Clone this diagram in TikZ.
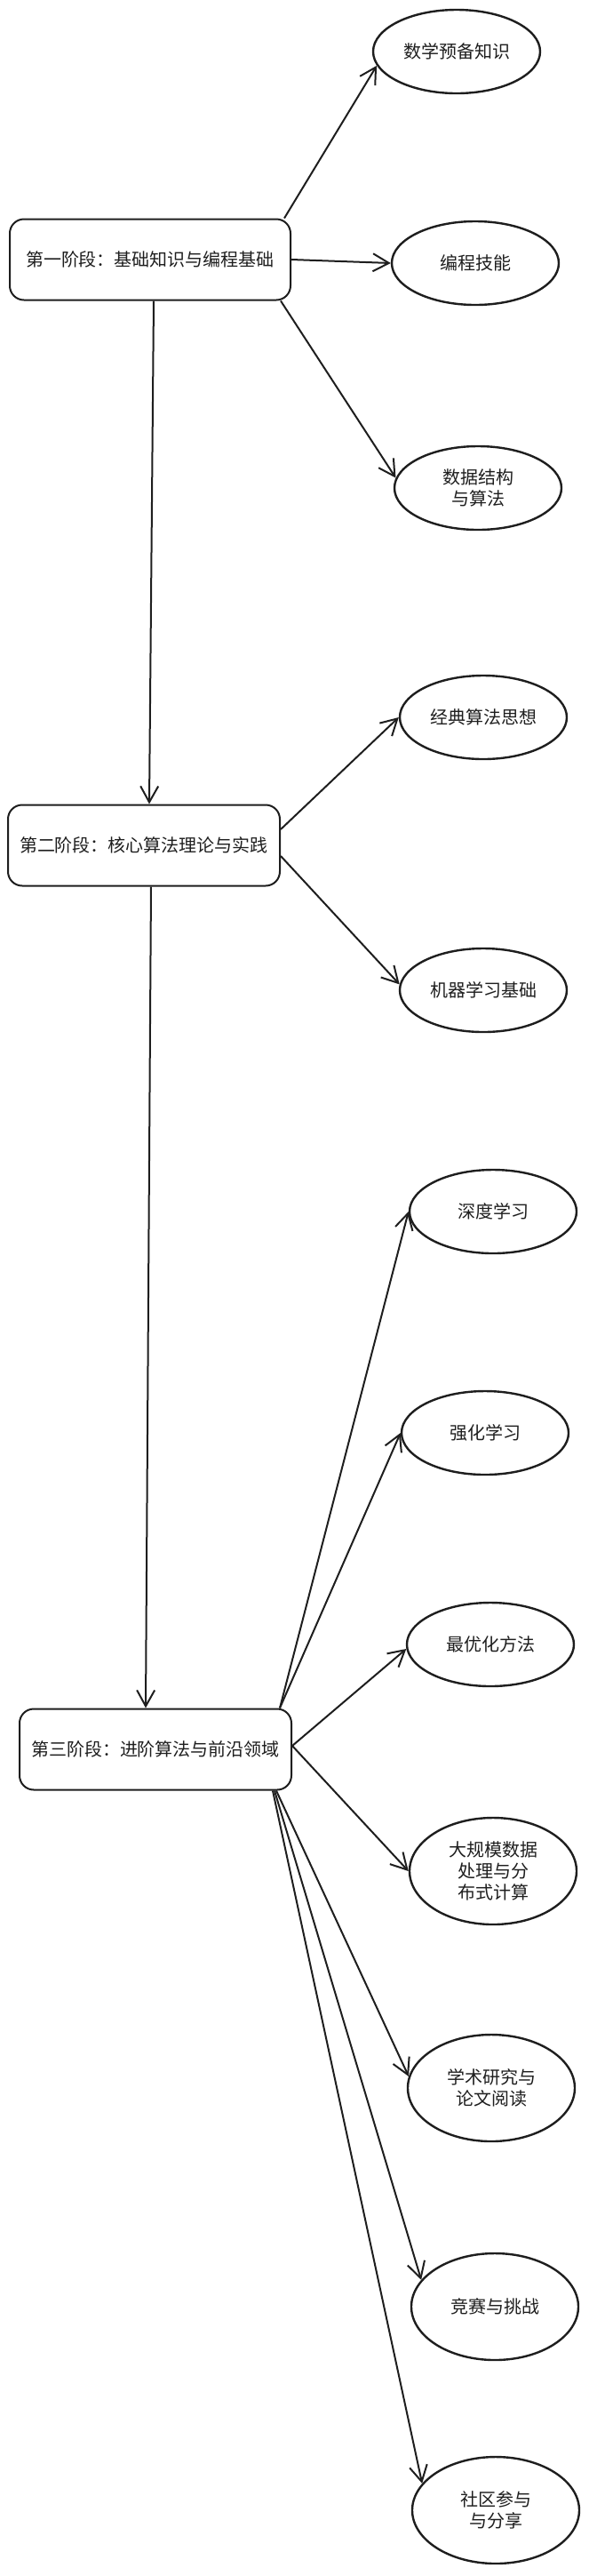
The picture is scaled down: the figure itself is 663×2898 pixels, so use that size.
\documentclass[tikz,border=0pt]{standalone}
\usepackage{fontspec}
\setmainfont{Noto Sans CJK SC}
\usepackage{tikz}
\usetikzlibrary{arrows.meta}
\usetikzlibrary{shapes}
\definecolor{ink}{HTML}{1E1E1E}
\tikzset{
  stage_box/.style = {draw=ink, rounded corners=8pt, line width=1pt, text=ink,
    minimum width=153pt, minimum height=45.5pt, inner sep=0pt},% etape
  topic_ell/.style = {ellipse, draw=ink, line width=1.2pt, text=ink,
    align=center, minimum width=94pt, minimum height=47pt, inner sep=0pt},% sujet
  topic_big/.style = {topic_ell, minimum height=60pt}% sujet, plusieurs lignes
}

\begin{document}
\begin{tikzpicture}[->,>={Straight Barb[length=9pt,width=10pt]},line width=1pt,
  ink, x=0.5pt, y=-0.5pt]
\useasboundingbox (0,0) rectangle (663,2898);

\node [stage_box, minimum width=158pt] (s1) at (169,292) {第一阶段：基础知识与编程基础};
\node [stage_box] (s2) at (162,951) {第二阶段：核心算法理论与实践};
\node [stage_box] (s3) at (175,1968) {第三阶段：进阶算法与前沿领域};

\node [topic_ell] (math) at (514,58) {数学预备知识};
\node [topic_ell] (prog) at (535,296) {编程技能};
\node [topic_ell] (ds) at (538,549) {数据结构\\与算法};
\node [topic_ell] (algo) at (544,807) {经典算法思想};
\node [topic_ell] (ml) at (544,1114) {机器学习基础};
\node [topic_ell] (dl) at (555,1363) {深度学习};
\node [topic_ell] (rl) at (546,1612) {强化学习};
\node [topic_ell] (opt) at (552,1850) {最优化方法};
\node [topic_big] (big) at (555,2105) {大规模数据\\处理与分\\布式计算};
\node [topic_big] (paper) at (553,2349) {学术研究与\\论文阅读};
\node [topic_big] (comp) at (557,2595) {竞赛与挑战};
\node [topic_big] (comm) at (558,2824) {社区参与\\与分享};

\draw ([xshift=-4pt]s1.north east) -- (math.190);
\draw (s1.east) -- (prog.west);
\draw ([xshift=-6pt]s1.south east) -- (ds.173);
\draw ([xshift=2pt]s1.south) -- ([xshift=3pt]s2.north);

\draw ([yshift=9pt]s2.east) -- (algo.west);
\draw ([yshift=-6pt]s2.east) -- (ml.176);
\draw ([xshift=4pt]s2.south) -- ([xshift=-5.5pt]s3.north);

\draw ([xshift=-7pt]s3.north east) -- (dl.west);
\draw ([xshift=-7pt]s3.north east) -- (rl.west);
\draw ([yshift=2pt]s3.east) -- (opt.183);
\draw ([yshift=2pt]s3.east) -- (big.west);
\draw ([xshift=-9pt]s3.south east) -- (paper.172);
\draw ([xshift=-10pt]s3.south east) -- (comp.160);
\draw ([xshift=-11pt]s3.south east) -- (comm.160);
%\draw[dashed] (s3.south) -- (comm.south west);
\end{tikzpicture}
\end{document}
